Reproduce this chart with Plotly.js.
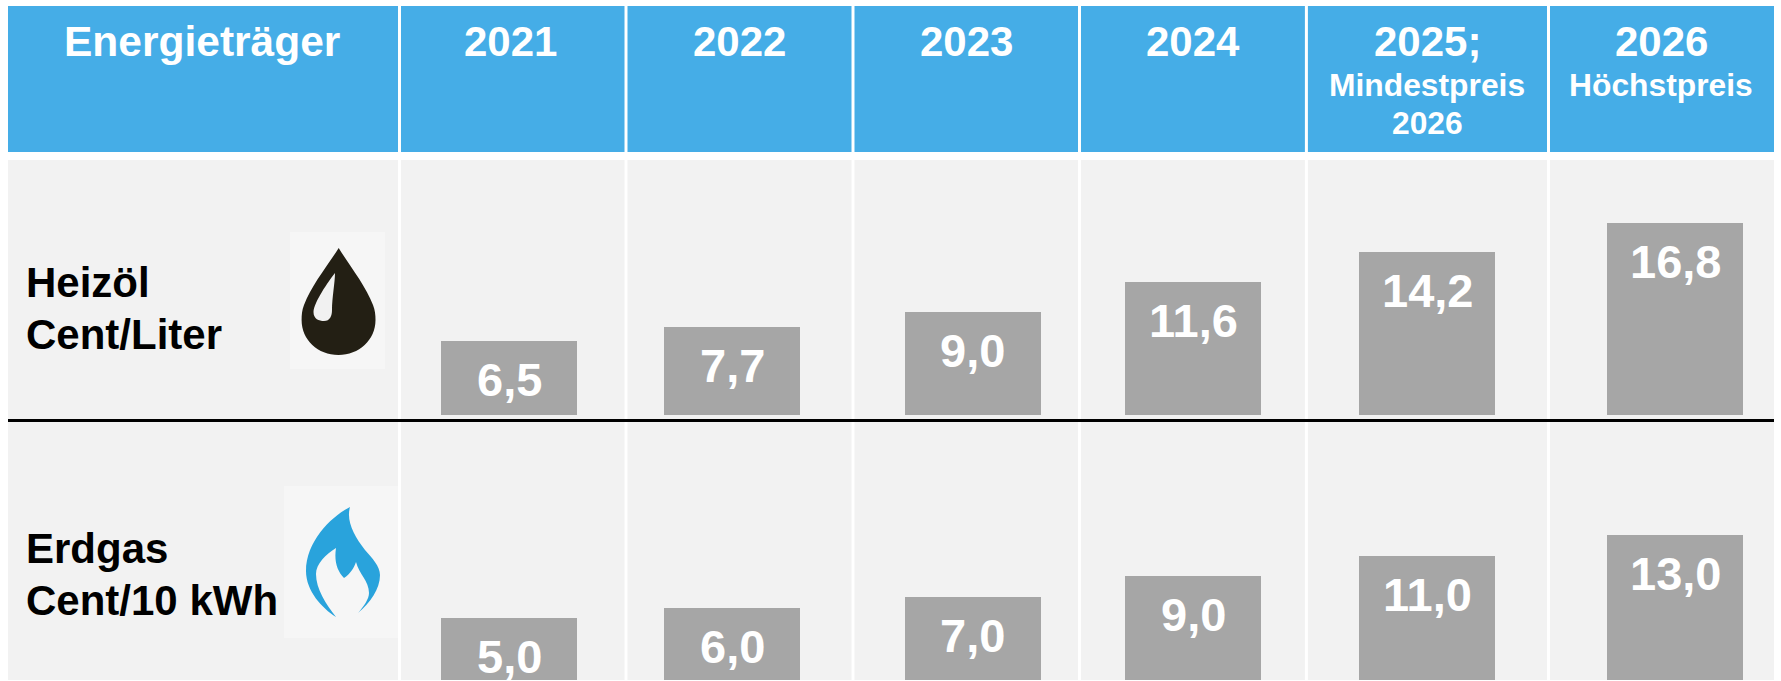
<!DOCTYPE html>
<html lang="de">
<head>
<meta charset="utf-8">
<script src="https://cdn.plot.ly/plotly-3.0.1.min.js"></script>
<style>html,body{margin:0;padding:0;background:#fff;overflow:hidden}</style>
</head>
<body>
<div id="chart" style="width:1781px;height:681px"></div>
<script>
// ---- data ----
const years = ["2021", "2022", "2023", "2024", "2025", "2026"];
const heizoelValues = [6.5, 7.7, 9.0, 11.6, 14.2, 16.8];
const erdgasValues = [5.0, 6.0, 7.0, 9.0, 11.0, 13.0];
const headerFirst = "Energieträger";
const headerYears = ["2021", "2022", "2023", "2024", "2025;", "2026"];
const headerNotes = ["", "", "", "", "Mindestpreis", "Höchstpreis"];
const headerNotes2 = ["", "", "", "", "2026", ""];
const rowHeizoel = ["Heizöl", "Cent/Liter"];
const rowErdgas = ["Erdgas", "Cent/10 kWh"];

// ---- layout helpers (page pixels to paper fractions) ----
const W = 1781, H = 681;
const px = x => x / W, py = y => 1 - y / H;
const FONT = '"Liberation Sans", Arial, sans-serif';
const BLUE = '#45ADE7', CELL = '#F2F2F2', BAR = '#A6A6A6';

const cellEdges = [8, 399.5, 626, 853, 1079.5, 1306.4, 1548.5, 1774];
const barSpans = [[441, 577], [664, 800], [905, 1041], [1125, 1261], [1359, 1495], [1607, 1743]];
const headCentres = [510.5, 739, 966.5, 1192.5, 1427, 1661];

const shapes = [];
const rect = (x0, x1, y0, y1, c) => shapes.push({
  type: 'rect', xref: 'paper', yref: 'paper', layer: 'below',
  x0: px(x0), x1: px(x1), y0: py(y1), y1: py(y0), fillcolor: c, line: {width: 0}
});
for (let i = 0; i < cellEdges.length - 1; i++) {
  const l = i === 0 ? cellEdges[0] : cellEdges[i] + 1.5;
  const r = i === cellEdges.length - 2 ? cellEdges[i + 1] : cellEdges[i + 1] - 1.5;
  rect(l, r, 6, 152, BLUE);
  rect(l, r, 160, 680, CELL);
}
shapes.push({type: 'line', xref: 'paper', yref: 'paper', layer: 'above',
  x0: px(8), x1: px(1774), y0: py(420.6), y1: py(420.6), line: {color: '#000', width: 3}});

// ---- text ----
const annotations = [];
const line = (text, x, baseline, size, color, anchor) => annotations.push({
  text, xref: 'paper', yref: 'paper', x: px(x), y: py(baseline - 0.905 * size - 1),
  xanchor: anchor || 'center', yanchor: 'top', showarrow: false, borderpad: 0, borderwidth: 0,
  font: {family: FONT, size, color, weight: 700}
});
line(headerFirst, 202, 57, 42.5, '#fff');
headerYears.forEach((t, i) => {
  line(t, headCentres[i], 57, 42, '#fff');
  if (headerNotes[i]) line(headerNotes[i], headCentres[i], 97, 31.8, '#fff');
  if (headerNotes2[i]) line(headerNotes2[i], headCentres[i], 135, 31.8, '#fff');
});
line(rowHeizoel[0], 26, 298.5, 42, '#000', 'left');
line(rowHeizoel[1], 26, 350.5, 42, '#000', 'left');
line(rowErdgas[0], 26, 564, 42, '#000', 'left');
line(rowErdgas[1], 26, 616, 42, '#000', 'left');

// ---- bars: one x axis per column, one y axis per energy carrier ----
const fmt = v => v.toFixed(1).replace('.', ',');
const gasBase = -2; // the gas row runs past the cropped lower edge of the picture
const layout = {
  width: W, height: H, margin: {l: 0, r: 0, t: 0, b: 0},
  paper_bgcolor: '#fff', plot_bgcolor: 'rgba(0,0,0,0)',
  showlegend: false, bargap: 0, hovermode: false, shapes, annotations,
  yaxis:  {domain: [py(415), py(160)], range: [0, 22.27], visible: false, fixedrange: true, anchor: 'x'},
  yaxis2: {domain: [py(680), py(425)], range: [-0.96, 23.56], visible: false, fixedrange: true, anchor: 'x'}
};
const traces = [];
years.forEach((year, i) => {
  const suffix = i === 0 ? '' : String(i + 1);
  layout['xaxis' + suffix] = {
    domain: [px(barSpans[i][0]), px(barSpans[i][1])], type: 'category', categoryarray: [year],
    range: [-0.5, 0.5], visible: false, fixedrange: true, anchor: 'y'
  };
  traces.push({type: 'bar', x: [year], y: [heizoelValues[i]], xaxis: 'x' + suffix, yaxis: 'y',
    marker: {color: BAR, line: {width: 0}}, hoverinfo: 'skip'});
  traces.push({type: 'bar', x: [year], y: [erdgasValues[i] - gasBase], base: gasBase, xaxis: 'x' + suffix, yaxis: 'y2',
    marker: {color: BAR, line: {width: 0}}, hoverinfo: 'skip'});
  [[heizoelValues[i], 'y'], [erdgasValues[i], 'y2']].forEach(([v, yref]) => annotations.push({
    text: fmt(v), xref: 'x' + suffix, yref, x: 0, y: v, xanchor: 'center', yanchor: 'top',
    yshift: -12, showarrow: false, borderpad: 0, borderwidth: 0,
    font: {family: FONT, size: 47, color: '#fff', weight: 700}
  }));
});

// ---- icons ----
const dropSvg = `<svg xmlns="http://www.w3.org/2000/svg" width="95" height="137" viewBox="0 0 95 137"><rect width="95" height="137" fill="#F6F6F6"/><path fill="#231F14" d="M48.7 16C38 33 21 54 14 73C12 78 11.6 83 11.6 88C11.6 108 28 123 48.5 123C69 123 85.5 108 85.5 88C85.5 83 85 78 83 73C76 54 59 33 48.7 16Z"/><path fill="#F1F1F1" d="M45 41C38 50 24 70 23.5 80C23.5 87 29 89 34 89C40 89 42 84 42 78C42 66 45 50 45 41Z"/></svg>`;
const flameSvg = `<svg xmlns="http://www.w3.org/2000/svg" width="114" height="152" viewBox="0 0 114 152"><rect width="114" height="152" fill="#F6F6F6"/><path fill="#29A3DC" d="M66 21C48 30 22 55 22 85C22 105 38 122 52 131C42 118 32 103 32 88C32 78 42 68 52 62C50 75 53 85 60 92C66 88 70 82 72 76C75 88 85 95 85 107C85 113 80 120 74 127C86 117 96 103 96 89C96 80 88 72 81 64C70 50 62 35 66 21Z"/></svg>`;
const icon = (svg, x, y, w, h) => ({
  source: 'data:image/svg+xml;utf8,' + encodeURIComponent(svg), xref: 'paper', yref: 'paper',
  x: px(x), y: py(y), sizex: w / W, sizey: h / H, xanchor: 'left', yanchor: 'top', sizing: 'stretch', layer: 'above'
});
layout.images = [icon(dropSvg, 290, 232, 95, 137), icon(flameSvg, 284, 486, 114, 152)];

Plotly.newPlot('chart', traces, layout, {displayModeBar: false, staticPlot: true});
</script>
</body>
</html>
